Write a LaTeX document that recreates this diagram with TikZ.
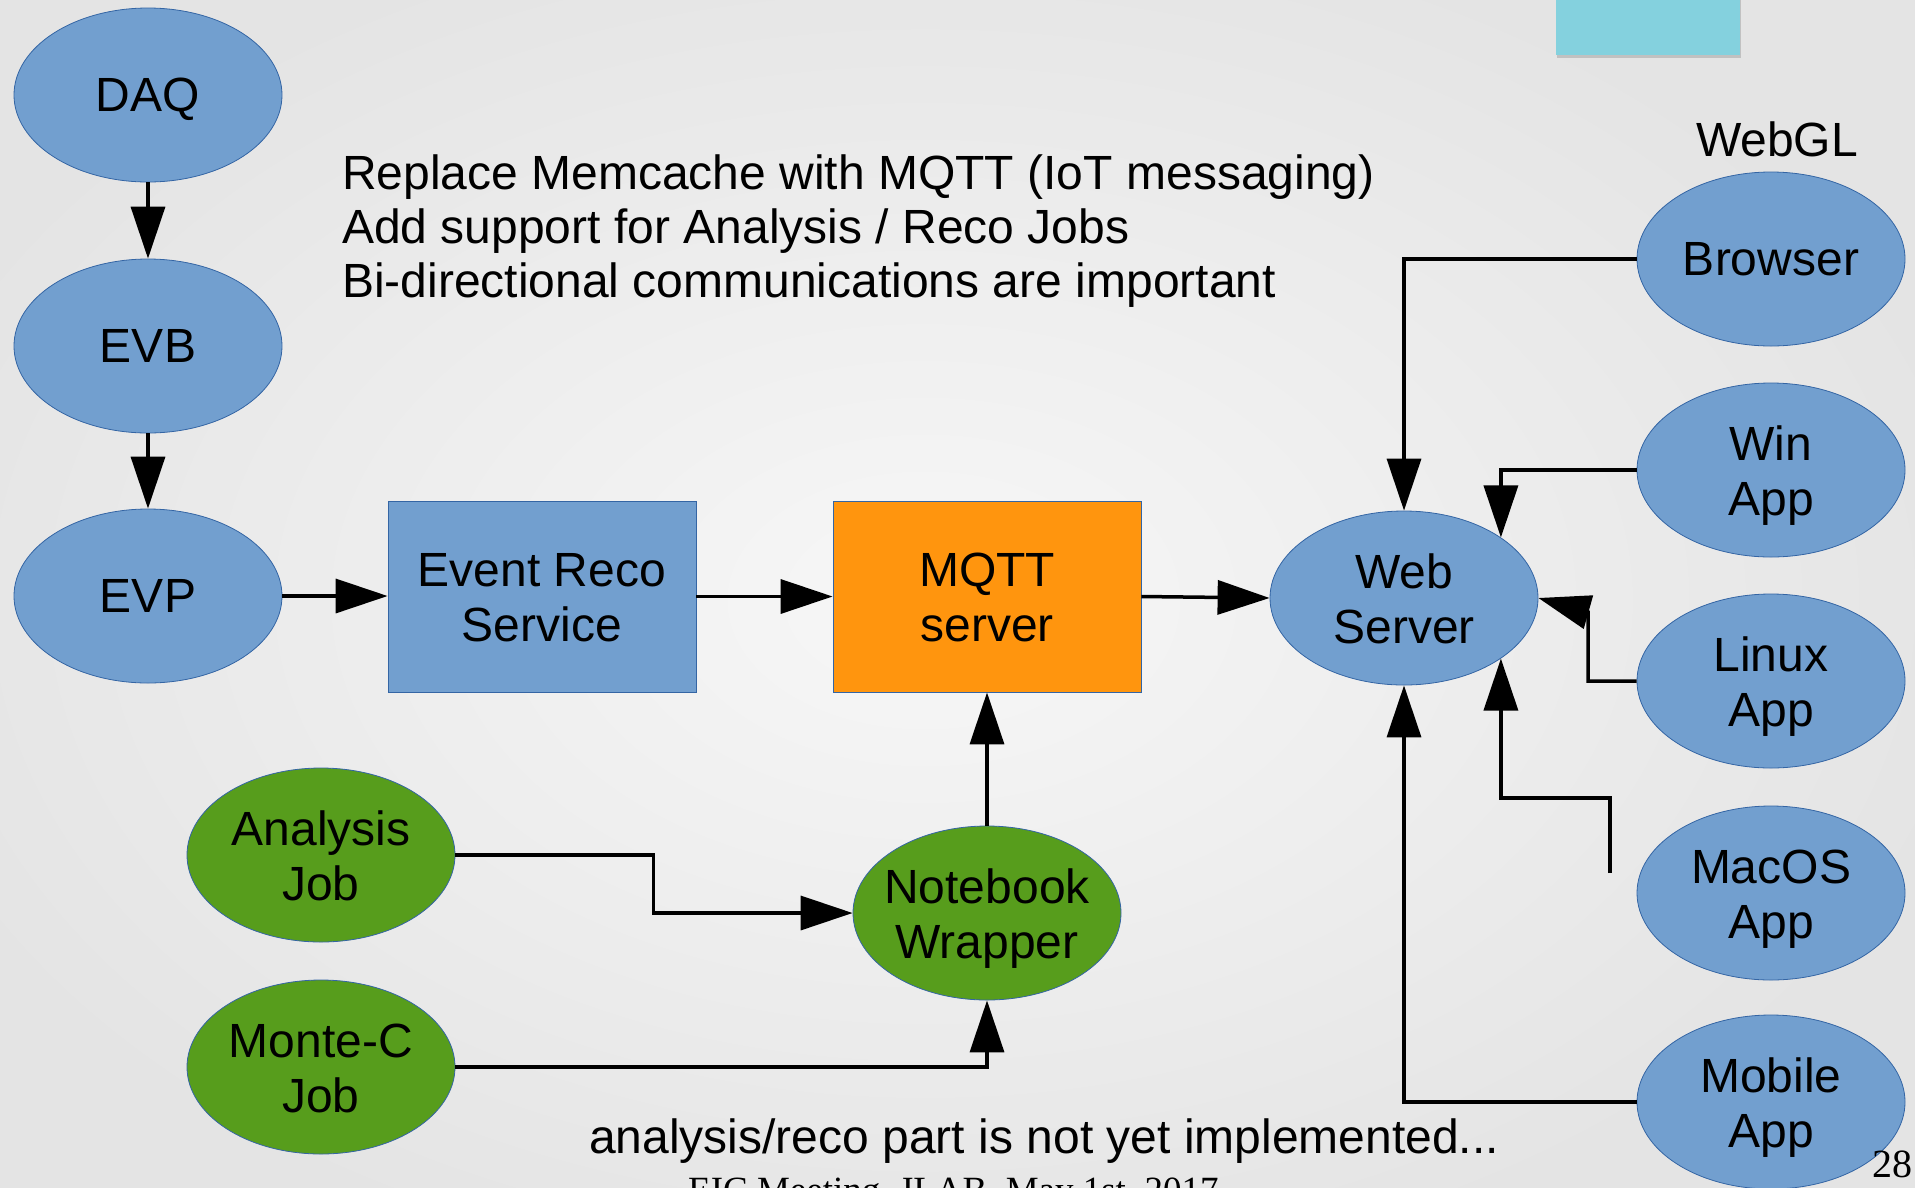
\documentclass[tikz,border=0pt]{standalone}
\usepackage{fontspec}
\setmainfont{Liberation Sans}
\newfontfamily\footface{Liberation Serif}
\usetikzlibrary{arrows.meta,shapes.geometric,shadows}

\definecolor{nodeblue}{HTML}{729FCF}
\definecolor{edgeblue}{HTML}{3465A4}
\definecolor{jobgreen}{HTML}{579D1C}
\definecolor{brokerorange}{HTML}{FF950E}
\definecolor{tabcyan}{HTML}{84D1DE}
\definecolor{bglight}{HTML}{F7F7F7}
\definecolor{bgdark}{HTML}{E4E4E4}

% line box with the font's ascent and descent, so labels sit centred
\newcommand\linebox{\rule[-10.2pt]{0pt}{53.6pt}}
% the same for a label set on two lines (measured from the lower baseline)
\newcommand\tallbox{\rule[-10.2pt]{0pt}{111.2pt}}

\begin{document}
\begin{tikzpicture}[x=1pt,y=-1pt,
  every node/.style={font=\fontsize{48}{55}\selectfont, align=center, inner sep=0pt},
  shape label/.style={execute at begin node=\linebox, execute at end node=\linebox},
  two lines/.style={execute at begin node=\tallbox},
  blob/.style={ellipse, draw=edgeblue, line width=0.8pt, fill=nodeblue, inner sep=-30pt,
               minimum width=268pt, minimum height=174pt, shape label},
  job/.style={blob, fill=jobgreen},
  box/.style={rectangle, draw=edgeblue, line width=0.8pt,
              minimum width=308pt, minimum height=191pt, shape label},
  link/.style={line width=3.5pt, -{Triangle[length=52pt,width=34pt]}},
  note/.style={anchor=base west}
]
% page frame and slide background
\useasboundingbox (0,0) rectangle (1915,1187);
\clip (0,0) rectangle (1915,1187);
\shade[inner color=bglight, outer color=bgdark] (-150,-100) rectangle (2000,1300);

% tab at the top edge
\fill[tabcyan, drop shadow={shadow xshift=1pt, shadow yshift=-3pt, opacity=0.35}]
  (1556,-20) rectangle (1740,55);

% bullet text
\node[note] (t1) at (342,189) {Replace Memcache with MQTT (IoT messaging)};
\node[note] (t2) at (342,243) {Add support for Analysis / Reco Jobs};
\node[note] (t3) at (342,297) {Bi-directional communications are important};
\node[anchor=base] (webgl) at (1777,156) {WebGL};

% acquisition chain
\node[blob] (daq) at (148,95) {DAQ};
\node[blob] (evb) at (148,346) {EVB};
\node[blob] (evp) at (148,596) {EVP};
\node[box, two lines, fill=nodeblue] (reco) at (542,596.5) {Event Reco\\Service};
\node[box, two lines, fill=brokerorange] (mqtt) at (987,596.5) {MQTT\\server};
\node[blob, two lines] (web) at (1404,598) {Web\\Server};

% clients
\node[blob] (browser) at (1771,259) {Browser};
\node[blob, two lines] (win) at (1771,470) {Win\\App};
\node[blob, two lines] (linux) at (1771,681) {Linux\\App};
\node[blob, two lines] (macos) at (1771,893) {MacOS\\App};
\node[blob, two lines] (mobile) at (1771,1102) {Mobile\\App};

% jobs
\node[job, two lines] (ana) at (321,855) {Analysis\\Job};
\node[job, two lines] (mc) at (321,1067) {Monte-C\\Job};
\node[job, two lines] (nb) at (987,913) {Notebook\\Wrapper};

% connectors
\draw[link] (daq) -- (evb);
\draw[link] (evb) -- (evp);
\draw[link] (evp.east) -- (reco.west |- evp.east);
\draw[link] (reco) -- (mqtt);
\draw[link] (mqtt.east) -- (web.west);
\draw[link] (browser.west) -| (web.north);
\draw[link] (win.west) -| (web.32);
\draw[link] (linux.west) -| (1588,612) -- (web.east);
\coordinate (macend) at (1610,873);
\coordinate (macbend) at (1610,798);
\draw[link] (macend) -- (macbend) -- (macbend -| web.-32) -- (web.-32);
\draw[link] (mobile.west) -| (web.south);
\draw[link] (ana.east) -- ++(198,0) |- (nb.west);
\draw[link] (mc.east) -| (nb.south);
\draw[link] (nb.north) -- (mqtt.south);

% footnote and footer
\node[note] (status) at (589,1153) {analysis/reco part is not yet implemented...};
\node[note, font=\footface\fontsize{37}{40}\selectfont] (footer) at (688,1202) {EIC Meeting, JLAB, May 1st, 2017};
\node[note, font=\footface\fontsize{40}{44}\selectfont] (pageno) at (1872,1177) {28};
\end{tikzpicture}
\end{document}
